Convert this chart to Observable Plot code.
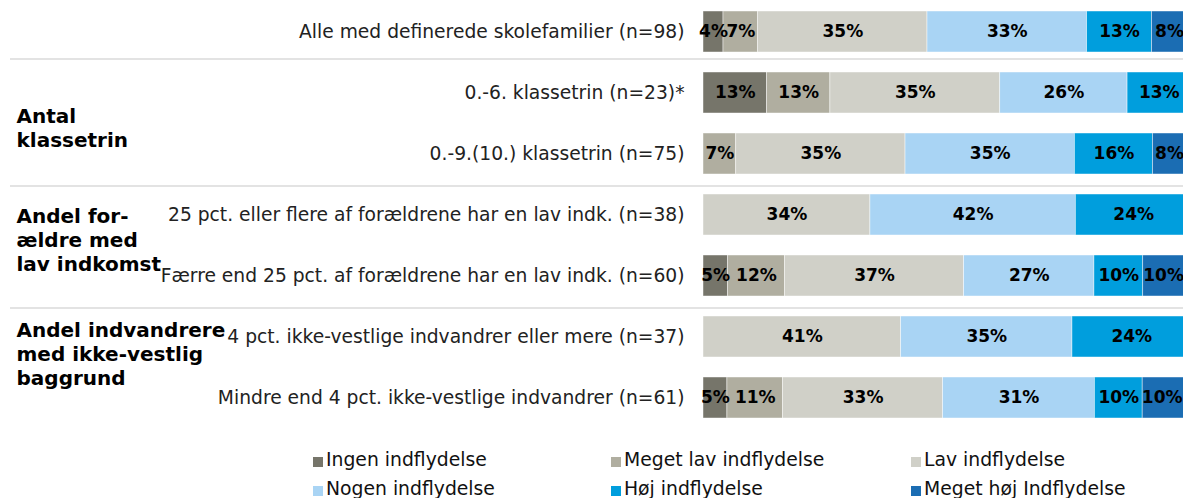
<!DOCTYPE html>
<html><head><meta charset="utf-8">
<script src="https://cdn.jsdelivr.net/npm/d3@7"></script>
<script src="https://cdn.jsdelivr.net/npm/@observablehq/plot@0.6"></script>
<style>
html,body{margin:0;padding:0;background:#fff;overflow:hidden;font-family:"DejaVu Sans",Verdana,sans-serif;}
#chart svg{display:block;}
#legend{display:grid;grid-template-columns:298px 300px auto;padding-left:313px;margin-top:5px;font-size:18.8px;color:#111;}
#legend div{height:29px;line-height:29px;white-space:nowrap;}
#legend .sw{display:inline-block;width:10px;height:10px;margin-right:3px;vertical-align:-1px;}
</style>
</head><body>
<div id="chart"></div>
<div id="legend"></div>
<script>
const categories = ["Ingen indflydelse", "Meget lav indflydelse", "Lav indflydelse", "Nogen indflydelse", "Høj indflydelse", "Meget høj Indflydelse"];
const colors = ["#76756a", "#b0aea0", "#d0d0c8", "#a9d4f4", "#009edd", "#1b6db3"];
const rows = [
  "Alle med definerede skolefamilier (n=98)",
  "0.-6. klassetrin (n=23)*",
  "0.-9.(10.) klassetrin (n=75)",
  "25 pct. eller flere af forældrene har en lav indk. (n=38)",
  "Færre end 25 pct. af forældrene har en lav indk. (n=60)",
  "4 pct. ikke-vestlige indvandrer eller mere (n=37)",
  "Mindre end 4 pct. ikke-vestlige indvandrer (n=61)"
];
const ingen    = [4.1, 13.0, 0,    0,    5.0,  0,    4.9];
const megetLav = [7.1, 13.0, 6.7,  0,    11.7, 0,    11.4];
const lav      = [34.7, 34.8, 34.7, 34.2, 36.7, 40.5, 32.8];
const nogen    = [32.7, 26.1, 34.7, 42.1, 26.7, 35.1, 31.1];
const hoej     = [13.3, 13.0, 16.0, 23.7, 10.0, 24.3, 9.8];
const megetHoej= [8.2, 0,    8.0,  0,    10.0, 0,    9.8];
const groupLabels = ["Antal\nklassetrin", "Andel for-\nældre med\nlav indkomst", "Andel indvandrere\nmed ikke-vestlig\nbaggrund"];
const groupFirstRow = [rows[1], rows[3], rows[5]];

const series = [ingen, megetLav, lav, nogen, hoej, megetHoej];
const lastCat = categories[categories.length - 1];
const data = [];
rows.forEach((r, i) => categories.forEach((c, j) => {
  if (series[j][i] > 0) data.push({row: r, cat: c, value: series[j][i]});
}));
const pct = d => Math.round(d.value) + "%";

const groupMark = (k, dy) => Plot.text([groupLabels[k]], {
  frameAnchor: "left", y: () => groupFirstRow[k], text: d => d,
  dx: 6, dy, textAnchor: "start", fontWeight: "bold", fontSize: 20, lineHeight: 1.2, fill: "#000"
});
const sepMark = (k, dy) => Plot.ruleY([groupFirstRow[k]], {y: d => d, dy, stroke: "#e3e3e3", strokeWidth: 2});

const chart = Plot.plot({
  width: 1183, height: 440,
  marginLeft: 10, marginRight: 0, marginTop: 0, marginBottom: 11,
  x: {domain: [0, 100], range: [703, 1191], axis: null},
  y: {domain: rows, range: [0, 429], paddingInner: 0.33, paddingOuter: 0.165, axis: null},
  color: {domain: categories, range: colors},
  style: {fontFamily: "DejaVu Sans, Verdana, sans-serif", background: "white", overflow: "hidden"},
  marks: [
    sepMark(0, -34),
    sepMark(1, -29),
    sepMark(2, -29),
    Plot.barX(data, Plot.stackX({x: "value", y: "row", fill: "cat", z: "cat", order: categories,
      stroke: "white", strokeWidth: 0.75, strokeOpacity: 0.6})),
    Plot.text(data, Plot.stackX({x: "value", y: "row", z: "cat", order: categories,
      text: d => d.cat === lastCat ? "" : pct(d), fontWeight: "bold", fontSize: 17, fill: "#000"})),
    Plot.text(data, Plot.stackX2({x: "value", y: "row", z: "cat", order: categories,
      text: d => d.cat === lastCat ? pct(d) : "", textAnchor: "end", dx: -8,
      fontWeight: "bold", fontSize: 17, fill: "#000"})),
    Plot.text(rows, {x: 0, y: d => d, text: d => d, textAnchor: "end", dx: -19, fontSize: 18.7, fill: "#222"}),
    groupMark(0, 34),
    groupMark(1, 24),
    groupMark(2, 16)
  ]
});
document.getElementById("chart").append(chart);

const legend = document.getElementById("legend");
categories.forEach((c, i) => {
  const div = document.createElement("div");
  const sw = document.createElement("span");
  sw.className = "sw";
  sw.style.background = colors[i];
  div.append(sw, document.createTextNode(c));
  legend.append(div);
});
</script>
</body></html>
